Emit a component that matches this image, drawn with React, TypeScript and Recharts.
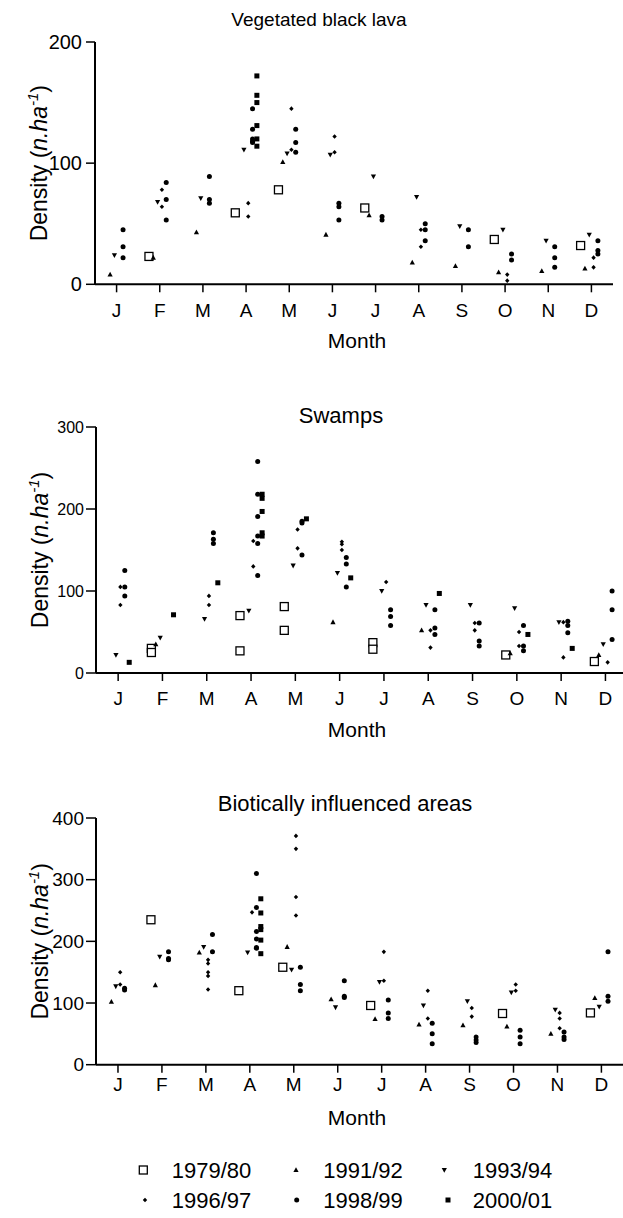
import React from "react";
import { ScatterChart, Scatter, XAxis, YAxis } from "recharts";

const MONTHS = ["J", "F", "M", "A", "M", "J", "J", "A", "S", "O", "N", "D"];
const MONTH_TICKS = [1, 2, 3, 4, 5, 6, 7, 8, 9, 10, 11, 12];
const SEASONS = ["1979/80", "1991/92", "1993/94", "1996/97", "1998/99", "2000/01"];

// [month, density] pairs
const lava7980 = [[2, 23], [4, 59], [5, 78], [7, 63], [10, 37], [12, 32]];
const lava9192 = [[1, 8], [2, 22], [3, 43], [5, 101], [6, 41], [7, 57], [8, 18], [9, 15], [10, 10], [11, 11], [12, 13]];
const lava9394 = [[1, 24], [2, 68], [3, 71], [4, 111], [5, 108], [6, 107], [7, 89], [8, 72], [9, 48], [10, 45], [11, 36], [12, 41]];
const lava9697 = [[2, 78], [2, 64], [4, 67], [4, 56], [5, 145], [5, 111], [6, 122], [6, 109], [8, 45], [8, 31], [10, 8], [10, 3], [12, 22], [12, 14]];
const lava9899 = [
  [1, 45], [1, 31], [1, 22], [2, 84], [2, 70], [2, 53], [3, 89], [3, 70], [3, 67],
  [4, 145], [4, 128], [4, 120], [4, 118], [4, 117], [5, 128], [5, 117], [5, 109],
  [6, 67], [6, 64], [6, 53], [7, 56], [7, 53], [8, 50], [8, 45], [8, 36], [9, 45], [9, 31],
  [10, 25], [10, 20], [11, 31], [11, 22], [11, 14], [12, 36], [12, 28], [12, 25],
];
const lava0001 = [[4, 172], [4, 156], [4, 150], [4, 131], [4, 120], [4, 114]];

const swamp7980 = [[2, 30], [2, 25], [4, 70], [4, 27], [5, 81], [5, 52], [7, 37], [7, 29], [10, 22], [12, 14]];
const swamp9192 = [[2, 35], [6, 62], [8, 52], [10, 24], [12, 22]];
const swamp9394 = [[1, 22], [2, 43], [3, 66], [4, 76], [5, 131], [6, 122], [7, 100], [8, 83], [9, 83], [10, 79], [11, 62], [12, 35]];
const swamp9697 = [
  [1, 105], [1, 83], [3, 94], [3, 83], [4, 161], [4, 130], [5, 175], [5, 152],
  [6, 160], [6, 157], [6, 150], [7, 111], [8, 52], [8, 31], [9, 61], [9, 52],
  [10, 50], [10, 33], [11, 62], [11, 19], [12, 13],
];
const swamp9899 = [
  [1, 125], [1, 105], [1, 94], [3, 171], [3, 163], [3, 158],
  [4, 258], [4, 218], [4, 191], [4, 167], [4, 158], [4, 119],
  [5, 185], [5, 183], [5, 144], [6, 141], [6, 133], [6, 105],
  [7, 77], [7, 69], [7, 58], [8, 77], [8, 55], [8, 47], [9, 61], [9, 39], [9, 33],
  [10, 58], [10, 33], [10, 27], [11, 63], [11, 58], [11, 49], [12, 100], [12, 77], [12, 41],
];
const swamp0001 = [[1, 13], [2, 71], [3, 110], [4, 218], [4, 213], [4, 197], [4, 171], [4, 167], [5, 188], [6, 116], [8, 97], [10, 47], [11, 30]];

const biotic7980 = [[2, 235], [4, 120], [5, 158], [7, 96], [10, 83], [12, 84]];
const biotic9192 = [[1, 102], [2, 129], [3, 182], [5, 191], [6, 106], [7, 74], [8, 65], [9, 64], [10, 62], [11, 50], [12, 108]];
const biotic9394 = [[1, 127], [2, 175], [3, 191], [4, 182], [5, 154], [6, 93], [7, 134], [8, 96], [9, 103], [10, 117], [11, 89], [12, 94]];
const biotic9697 = [
  [1, 150], [1, 130], [3, 170], [3, 164], [3, 150], [3, 144], [3, 122], [4, 247],
  [5, 371], [5, 350], [5, 272], [5, 242], [7, 183], [7, 136], [8, 120], [8, 75],
  [9, 92], [9, 78], [10, 130], [10, 120], [11, 84], [11, 75], [11, 59],
];
const biotic9899 = [
  [1, 124], [1, 121], [2, 183], [2, 172], [2, 170], [3, 211], [3, 183],
  [4, 310], [4, 255], [4, 216], [4, 204], [4, 190], [4, 189],
  [5, 158], [5, 130], [5, 120], [6, 136], [6, 111], [6, 109], [7, 105], [7, 84], [7, 75],
  [8, 67], [8, 50], [8, 34], [9, 45], [9, 40], [9, 36], [10, 56], [10, 45], [10, 34],
  [11, 53], [11, 45], [11, 41], [12, 183], [12, 111], [12, 103],
];
const biotic0001 = [[4, 269], [4, 246], [4, 224], [4, 219], [4, 202], [4, 180]];

// horizontal nudge of each season within its month
const OFFSETS = [-0.25, -0.15, -0.05, 0.05, 0.15, 0.25];
const FONT = "'Liberation Sans', Arial, Helvetica, sans-serif";

type Pt = { cx?: number; cy?: number };

const OpenSquare = ({ cx = 0, cy = 0 }: Pt) => (
  <rect x={cx - 4} y={cy - 4} width={8} height={8} fill="#fff" stroke="#000" strokeWidth={1.3} />
);
const TriUp = ({ cx = 0, cy = 0 }: Pt) => (
  <path d={`M${cx},${cy - 2.8} L${cx + 2.6},${cy + 2} L${cx - 2.6},${cy + 2} Z`} fill="#000" />
);
const TriDown = ({ cx = 0, cy = 0 }: Pt) => (
  <path d={`M${cx},${cy + 2.8} L${cx + 2.6},${cy - 2} L${cx - 2.6},${cy - 2} Z`} fill="#000" />
);
const Diamond = ({ cx = 0, cy = 0 }: Pt) => (
  <path d={`M${cx},${cy - 2.3} L${cx + 2.2},${cy} L${cx},${cy + 2.3} L${cx - 2.2},${cy} Z`} fill="#000" />
);
const Dot = ({ cx = 0, cy = 0 }: Pt) => <circle cx={cx} cy={cy} r={2.5} fill="#000" />;
const FilledSquare = ({ cx = 0, cy = 0 }: Pt) => (
  <rect x={cx - 2.5} y={cy - 2.5} width={5} height={5} fill="#000" />
);

const SHAPES = [OpenSquare, TriUp, TriDown, Diamond, Dot, FilledSquare];

const DensityLabel = ({ x, y, fs }: { x: number; y: number; fs: number }) => (
  <text
    x={x}
    y={y}
    transform={`rotate(-90 ${x} ${y})`}
    textAnchor="middle"
    fontSize={fs}
    fontFamily={FONT}
    fill="#000"
  >
    Density (<tspan fontStyle="italic">n.ha</tspan>
    <tspan fontStyle="italic" fontSize={fs * 0.65} dy={-fs * 0.4}>-1</tspan>
    <tspan dy={fs * 0.4}>)</tspan>
  </text>
);

const PANELS = [
  {
    title: "Vegetated black lava",
    series: [lava7980, lava9192, lava9394, lava9697, lava9899, lava0001],
    yMax: 200,
    yTicks: [0, 100, 200],
    plotTop: 41.7,
    plotBottom: 284,
    axisX: 95,
    plotRight: 613,
    yFont: 20,
    yTickSize: 9,
    yTickMargin: 4,
    xTickMargin: 11,
    titleX: 319,
    titleY: 9,
    titleFont: 19,
    labelCy: 155,
    monthY: 330,
  },
  {
    title: "Swamps",
    series: [swamp7980, swamp9192, swamp9394, swamp9697, swamp9899, swamp0001],
    yMax: 300,
    yTicks: [0, 100, 200, 300],
    plotTop: 426.7,
    plotBottom: 672.7,
    axisX: 96,
    plotRight: 627.6,
    yFont: 16,
    yTickSize: 10,
    yTickMargin: 2,
    xTickMargin: 11,
    titleX: 341,
    titleY: 405,
    titleFont: 22,
    labelCy: 546,
    monthY: 719,
  },
  {
    title: "Biotically influenced areas",
    series: [biotic7980, biotic9192, biotic9394, biotic9697, biotic9899, biotic0001],
    yMax: 400,
    yTicks: [0, 100, 200, 300, 400],
    plotTop: 818.3,
    plotBottom: 1065,
    axisX: 96,
    plotRight: 623.4,
    yFont: 19,
    yTickSize: 10,
    yTickMargin: 2,
    xTickMargin: 5,
    titleX: 345,
    titleY: 793,
    titleFont: 22,
    labelCy: 936,
    monthY: 1107,
  },
];

function Panel({ p }: { p: (typeof PANELS)[number] }) {
  const chartTop = p.plotTop - 20;
  const xAxisH = 40;
  const height = p.plotBottom - chartTop + xAxisH;
  const width = p.plotRight + 10;
  return (
    <>
      <div
        style={{
          position: "absolute",
          left: p.titleX - 200,
          width: 400,
          top: p.titleY,
          textAlign: "center",
          fontSize: p.titleFont,
          lineHeight: "22px",
        }}
      >
        {p.title}
      </div>
      <div style={{ position: "absolute", top: chartTop, left: 0 }}>
        <ScatterChart width={width} height={height} margin={{ top: 20, right: 10, bottom: 0, left: 0 }}>
          <XAxis
            type="number"
            dataKey="x"
            domain={[0.5, 12.5]}
            ticks={MONTH_TICKS}
            interval={0}
            allowDataOverflow
            tickFormatter={(v: number) => MONTHS[v - 1]}
            height={xAxisH}
            tickSize={8}
            tickMargin={p.xTickMargin}
            axisLine={{ stroke: "#000", strokeWidth: 2 }}
            tickLine={{ stroke: "#000", strokeWidth: 1.5 }}
            tick={{ fill: "#000", fontSize: 19, fontFamily: FONT }}
          />
          <YAxis
            type="number"
            dataKey="y"
            domain={[0, p.yMax]}
            ticks={p.yTicks}
            interval={0}
            width={p.axisX}
            tickSize={p.yTickSize}
            tickMargin={p.yTickMargin}
            axisLine={{ stroke: "#000", strokeWidth: 2 }}
            tickLine={{ stroke: "#000", strokeWidth: 1.5 }}
            tick={{ fill: "#000", fontSize: p.yFont, fontFamily: FONT }}
            label={<DensityLabel x={33} y={p.labelCy - chartTop} fs={23} />}
          />
          {p.series.map((pts, i) => (
            <Scatter
              key={SEASONS[i]}
              name={SEASONS[i]}
              data={pts.map(([m, v]) => ({ x: m + OFFSETS[i], y: v }))}
              shape={SHAPES[i]}
              isAnimationActive={false}
            />
          ))}
        </ScatterChart>
      </div>
      <div
        style={{
          position: "absolute",
          left: 157,
          width: 400,
          top: p.monthY,
          textAlign: "center",
          fontSize: 21,
          lineHeight: "22px",
        }}
      >
        Month
      </div>
    </>
  );
}

const LEGEND_POS = [
  { sx: 143.3, tx: 171.7, row: 0 },
  { sx: 296, tx: 323.3, row: 0 },
  { sx: 444.3, tx: 472.7, row: 0 },
  { sx: 145, tx: 171.7, row: 1 },
  { sx: 296.7, tx: 323.3, row: 1 },
  { sx: 448, tx: 472.7, row: 1 },
];

function SeasonLegend() {
  const rowY = [1170, 1200];
  return (
    <svg style={{ position: "absolute", left: 0, top: 0 }} width={623} height={1218}>
      {SEASONS.map((s, i) => {
        const pos = LEGEND_POS[i];
        const Shape = SHAPES[i];
        const cy = rowY[pos.row];
        return (
          <g key={s}>
            <Shape cx={pos.sx} cy={cy} />
            <text x={pos.tx} y={cy + 8} fontSize={22} fontFamily={FONT} fill="#000">
              {s}
            </text>
          </g>
        );
      })}
    </svg>
  );
}

export default function App() {
  return (
    <div
      style={{
        position: "absolute",
        left: 0,
        top: 0,
        width: 623,
        height: 1218,
        overflow: "hidden",
        background: "#fff",
        fontFamily: FONT,
        color: "#000",
      }}
    >
      <SeasonLegend />
      {PANELS.map((p) => (
        <Panel key={p.title} p={p} />
      ))}
    </div>
  );
}
